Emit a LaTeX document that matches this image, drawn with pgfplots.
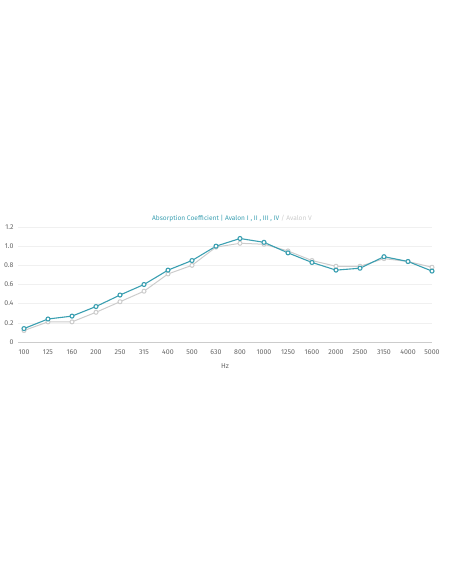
\documentclass[border=0pt]{standalone}
\usepackage{fontspec}
\setmainfont{Fira Sans}
\usepackage{pgfplots}
\pgfplotsset{compat=1.18}
\definecolor{teal1}{HTML}{3A9FB1}
\definecolor{grey1}{HTML}{CCCCCC}
\definecolor{tickc}{HTML}{666666}
\definecolor{gridc}{HTML}{F0F0F0}
\begin{document}
\begin{tikzpicture}
\path (0pt,0pt) rectangle (452pt,584pt);
\begin{axis}[
  at={(18pt,242pt)}, anchor=south west,
  scale only axis, width=414pt, height=115pt,
  xmin=-0.25, xmax=17, ymin=0, ymax=1.2,
  xtick={0,...,17},
  xticklabels={100,125,160,200,250,315,400,500,630,800,1000,1250,1600,2000,2500,3150,4000,5000},
  ytick={0,0.2,0.4,0.6,0.8,1.0,1.2},
  yticklabels={0,0.2,0.4,0.6,0.8,1.0,1.2},
  axis x line*=bottom, axis y line*=left,
  x axis line style={grey1, line width=0.8pt, -},
  y axis line style={draw=none},
  ymajorgrids, grid style={gridc, line width=0.5pt},
  major tick length=0pt,
  tick label style={font=\fontsize{7}{8}\selectfont, text=tickc},
  xticklabel style={yshift=-4pt},
  yticklabel style={xshift=-1pt},
  clip=false,
  xlabel={Hz}, xlabel style={font=\fontsize{7}{8}\selectfont, text=tickc, yshift=-2pt},
  title={\textcolor{teal1}{Absorption Coefficient | Avalon I , II , III , IV} \textcolor{grey1}{/ Avalon V}},
  title style={font=\fontsize{6.6}{7.5}\selectfont, yshift=-4pt, xshift=7pt},
]
\addplot[grey1, line width=1pt, mark=*, mark size=2pt, mark options={fill=white, draw=grey1, solid}]
coordinates {(0,0.12)(1,0.21)(2,0.21)(3,0.31)(4,0.42)(5,0.53)(6,0.71)(7,0.80)(8,0.99)(9,1.03)(10,1.02)(11,0.95)(12,0.85)(13,0.79)(14,0.79)(15,0.87)(16,0.84)(17,0.78)};
\addplot[teal1, line width=1.1pt, mark=*, mark size=2pt, mark options={fill=white, draw=teal1, solid}]
coordinates {(0,0.14)(1,0.24)(2,0.27)(3,0.37)(4,0.49)(5,0.60)(6,0.75)(7,0.85)(8,1.00)(9,1.08)(10,1.04)(11,0.93)(12,0.83)(13,0.75)(14,0.77)(15,0.89)(16,0.84)(17,0.74)};
\end{axis}
\end{tikzpicture}
\end{document}
